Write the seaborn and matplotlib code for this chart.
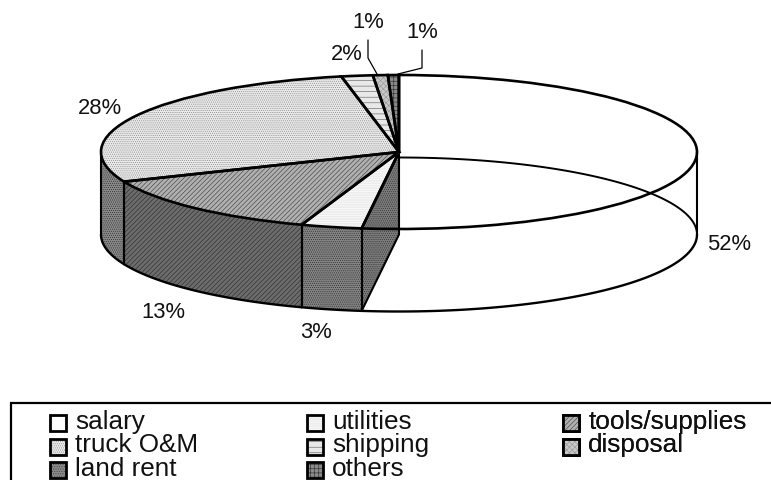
import numpy as np
import matplotlib
matplotlib.use("Agg")
import matplotlib.pyplot as plt
from matplotlib.legend_handler import HandlerBase
from matplotlib.patches import Patch, Rectangle, Wedge
import seaborn as sns

# Share of annual cost by item (percent)
categories = ["salary", "utilities", "tools/supplies", "truck O&M",
              "shipping", "disposal", "land rent", "others"]
shares = [52.0, 3.3, 13.4, 28.2, 1.7, 0.8, 0.0, 0.6]

top_colors = ["#ffffff", "#ececec", "#b0b0b0", "#eaeaea", "#e8e8e8", "#c8c8c8", "#8a8a8a", "#8a8a8a"]
ink_colors = ["none", "#ffffff", "#444444", "#8c8c8c", "#666666", "#999999", "#444444", "#333333"]
hatches = [None, "-------", "///////", "........", "---", "xxxxxx", ".......", "++++"]
wall_colors = ["none", "#858585", "#6c6c6c", "#8a8a8a", "#888888", "#888888", "#666666", "#666666"]
wall_hatches = [None, "........", "///////", "........", None, None, None, None]

sns.set_theme(style="white", font="Liberation Sans")
plt.rcParams["hatch.linewidth"] = 0.45

W, H = 771, 480
CX, CY, RX, RY, DROP = 399, 152, 298, 77, 82.5

fig = plt.figure(figsize=(W / 100, H / 100), dpi=100, facecolor="white")
ax = fig.add_axes([0, 0, 1, 1])


def px(x, y):
    """Canvas pixel position to data units of the unit-radius pie."""
    return (x - CX) / RX, (CY - y) / RY


wedges, _ = ax.pie(shares, startangle=90, counterclock=False, colors=top_colors,
                   wedgeprops=dict(linewidth=0, zorder=5))
ax.set_aspect("auto")
ax.set_xlim(-CX / RX, (W - CX) / RX)
ax.set_ylim(-(H - CY) / RY, CY / RY)
ax.axis("off")
wedges[0].set_facecolor("none")

depth = DROP / RY
edges = np.cumsum([0] + shares) * 3.6  # clockwise from twelve o'clock


def rim(deg0, deg1):
    t = np.radians(np.linspace(deg0, deg1, 120))
    return np.sin(t), np.cos(t)


# Outer walls of the front half
for i in range(len(shares)):
    a, b = max(edges[i], 90), min(edges[i + 1], 270)
    if b <= a:
        continue
    x, y = rim(a, b)
    xs = np.r_[x, x[::-1]]
    ys = np.r_[y, y[::-1] - depth]
    if wall_colors[i] != "none":
        ax.fill(xs, ys, color=wall_colors[i], lw=0, zorder=1)
    if wall_hatches[i]:
        ax.fill(xs, ys, fc="none", ec="#2e2e2e", lw=0, hatch=wall_hatches[i], zorder=2)
    ax.plot(xs[[0, -1]], ys[[0, -1]], color="black", lw=1.5, zorder=3)
    ax.plot([x[-1], x[-1]], [y[-1], y[-1] - depth], color="black", lw=1.5, zorder=3)
    ax.plot(x, y - depth, color="black", lw=1.7, zorder=3)

# Cut face where the salary slice ends
sx, sy = rim(edges[1], edges[1])
sx, sy = sx[0], sy[0]
ax.fill([0, 0, sx, sx], [0, -depth, sy - depth, sy], fc="#7c7c7c", ec="none", zorder=1)
ax.fill([0, 0, sx, sx], [0, -depth, sy - depth, sy], fc="none", ec="#333333", lw=0,
        hatch="........", zorder=2)
ax.plot([0, 0, sx], [0, -depth, sy - depth], color="black", lw=1.5, zorder=3)

# Far side of the base seen through the empty salary slice
x, y = rim(0, 90)
ax.plot(x, y - depth, color="black", lw=1.4, zorder=3)

# Top faces: hatch layer and outline over the flat fill from ax.pie
for w, ink, hatch in zip(wedges, ink_colors, hatches):
    if w.theta2 - w.theta1 <= 0:
        continue
    if hatch:
        ax.add_patch(Wedge(w.center, w.r, w.theta1, w.theta2, fc="none", ec=ink, lw=0,
                           hatch=hatch, zorder=6))
    ax.add_patch(Wedge(w.center, w.r, w.theta1, w.theta2, fc="none", ec="black", lw=1.9,
                       zorder=7))

# Percentage labels, skipping the empty land rent slice
label_spots = {0: (729, 244), 1: (316, 333), 2: (163, 313), 3: (100, 109),
               4: (347, 55), 5: (368, 23), 7: (422, 32)}
for i, (lx, ly) in label_spots.items():
    tx, ty = px(lx, ly)
    ax.text(tx, ty, f"{shares[i]:.0f}%", fontsize=15.8, color="#111111",
            ha="center", va="center", zorder=9)

# Leader lines of the two smallest slices
for path in ([(368, 40), (368, 58), (377, 74)], [(422, 50), (422, 68), (398, 74)]):
    lx, ly = zip(*[px(*p) for p in path])
    ax.plot(lx, ly, color="black", lw=0.9, zorder=8)


class Swatch(HandlerBase):
    """Legend key built from a flat fill, a hatch layer and a heavy outline."""

    def create_artists(self, legend, orig, xd, yd, width, height, fontsize, trans):
        i = orig.index
        size = 11.5
        y0 = -yd - 1.5
        kw = dict(transform=trans)
        arts = [Rectangle((-xd, y0), size, size, fc=top_colors[i], ec="none", **kw)]
        if hatches[i]:
            arts.append(Rectangle((-xd, y0), size, size, fc="none", ec=ink_colors[i], lw=0,
                                  hatch=hatches[i], **kw))
        arts.append(Rectangle((-xd, y0), size, size, fc="none", ec="black", lw=2.0, **kw))
        return arts


# Legend box runs off the right and bottom of the canvas
x0, y0 = px(11, 403)
x1, y1 = px(W + 40, H + 40)
ax.add_patch(Rectangle((x0, y1), x1 - x0, y0 - y1, fc="white", ec="black", lw=1.6, zorder=4))

columns = [[0, 3, 6], [1, 4, 7], [2, 5]]
column_left = [50, 307, 563]
for col, left in zip(columns, column_left):
    handles = []
    for i in col:
        h = Patch(label=categories[i])
        h.index = i
        handles.append(h)
    leg = ax.legend(handles=handles, handler_map={Patch: Swatch()}, loc="upper left",
                    bbox_to_anchor=(left / W, 1 - 410 / H), bbox_transform=fig.transFigure,
                    frameon=False, fontsize=18.8, borderpad=0, borderaxespad=0,
                    labelspacing=-0.02, handlelength=0.62, handletextpad=0.35,
                    labelcolor="#111111")
    leg.set_zorder(10)
    ax.add_artist(leg)

fig.savefig("out.png", dpi=100)
